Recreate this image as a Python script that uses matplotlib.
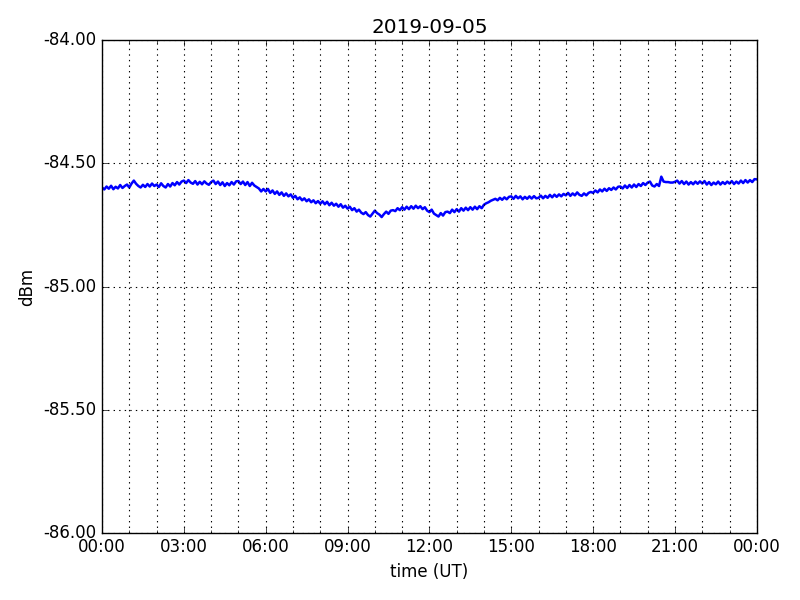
import datetime as dt
import matplotlib
matplotlib.use("Agg")
import matplotlib.pyplot as plt
import matplotlib.dates as mdates
from matplotlib.ticker import FormatStrFormatter

plt.style.use("classic")

title = "2019-09-05"
start = dt.datetime(2019, 9, 5)
step_minutes = 5

# signal level (dBm), one value every 5 minutes, 12 per hour
level_dbm = [
    -84.598, -84.606, -84.594, -84.603, -84.591, -84.605, -84.595, -84.602, -84.588, -84.600, -84.592, -84.586,
    -84.598, -84.582, -84.570, -84.583, -84.592, -84.598, -84.587, -84.596, -84.584, -84.594, -84.582, -84.592,
    -84.586, -84.596, -84.581, -84.592, -84.598, -84.584, -84.594, -84.580, -84.589, -84.576, -84.586, -84.574,
    -84.570, -84.580, -84.568, -84.578, -84.583, -84.572, -84.586, -84.575, -84.585, -84.573, -84.582, -84.587,
    -84.576, -84.570, -84.584, -84.574, -84.588, -84.577, -84.592, -84.580, -84.589, -84.576, -84.586, -84.573,
    -84.572, -84.584, -84.574, -84.588, -84.576, -84.592, -84.579, -84.590, -84.596, -84.602, -84.614, -84.604,
    -84.614, -84.604, -84.620, -84.610, -84.624, -84.614, -84.628, -84.618, -84.632, -84.622, -84.634, -84.626,
    -84.640, -84.632, -84.646, -84.638, -84.650, -84.642, -84.654, -84.646, -84.658, -84.650, -84.662, -84.653,
    -84.664, -84.654, -84.666, -84.656, -84.670, -84.660, -84.672, -84.664, -84.676, -84.666, -84.680, -84.672,
    -84.684, -84.676, -84.690, -84.682, -84.696, -84.688, -84.700, -84.706, -84.698, -84.710, -84.716, -84.704,
    -84.692, -84.702, -84.708, -84.718, -84.706, -84.696, -84.705, -84.692, -84.690, -84.694, -84.682, -84.690,
    -84.678, -84.688, -84.676, -84.686, -84.674, -84.684, -84.672, -84.682, -84.674, -84.686, -84.678, -84.692,
    -84.698, -84.688, -84.704, -84.710, -84.716, -84.702, -84.712, -84.698, -84.696, -84.702, -84.688, -84.698,
    -84.686, -84.696, -84.682, -84.692, -84.680, -84.690, -84.678, -84.688, -84.676, -84.686, -84.674, -84.682,
    -84.668, -84.662, -84.658, -84.652, -84.648, -84.644, -84.650, -84.640, -84.648, -84.638, -84.646, -84.636,
    -84.634, -84.644, -84.632, -84.642, -84.634, -84.646, -84.636, -84.644, -84.634, -84.643, -84.633, -84.642,
    -84.640, -84.631, -84.642, -84.632, -84.640, -84.628, -84.638, -84.627, -84.636, -84.626, -84.634, -84.624,
    -84.630, -84.620, -84.632, -84.622, -84.630, -84.618, -84.628, -84.632, -84.622, -84.630, -84.620, -84.616,
    -84.620, -84.610, -84.618, -84.606, -84.614, -84.603, -84.612, -84.601, -84.608, -84.598, -84.606, -84.595,
    -84.594, -84.602, -84.590, -84.600, -84.588, -84.598, -84.586, -84.596, -84.584, -84.592, -84.580, -84.588,
    -84.578, -84.574, -84.590, -84.594, -84.584, -84.592, -84.554, -84.574, -84.576, -84.576, -84.578, -84.578,
    -84.575, -84.570, -84.582, -84.572, -84.584, -84.574, -84.586, -84.576, -84.585, -84.574, -84.583, -84.573,
    -84.582, -84.572, -84.586, -84.576, -84.588, -84.578, -84.585, -84.574, -84.586, -84.576, -84.584, -84.574,
    -84.582, -84.572, -84.584, -84.574, -84.582, -84.570, -84.580, -84.568, -84.578, -84.568, -84.576, -84.564,
    -84.565,
]

times = [start + dt.timedelta(minutes=step_minutes * i) for i in range(len(level_dbm))]

fig = plt.figure(figsize=(8, 6), dpi=100)
ax = fig.add_subplot(111)
fig.subplots_adjust(left=0.1275, right=0.946, top=0.933, bottom=0.112)

ax.plot(times, level_dbm, color="b", linewidth=1.8)

ax.set_xlim(start, start + dt.timedelta(days=1))
ax.set_ylim(-86.0, -84.0)
ax.set_yticks([-86.0, -85.5, -85.0, -84.5, -84.0])
ax.yaxis.set_major_formatter(FormatStrFormatter("%.2f"))
ax.xaxis.set_major_locator(mdates.HourLocator(byhour=range(0, 24, 3)))
ax.xaxis.set_minor_locator(mdates.HourLocator())
ax.xaxis.set_major_formatter(mdates.DateFormatter("%H:%M"))
ax.grid(True, which="both", color="k", linestyle=":", linewidth=0.8)

ax.set_title(title)
ax.set_xlabel("time (UT)")
ax.set_ylabel("dBm")

fig.savefig("out.png", dpi=100)
